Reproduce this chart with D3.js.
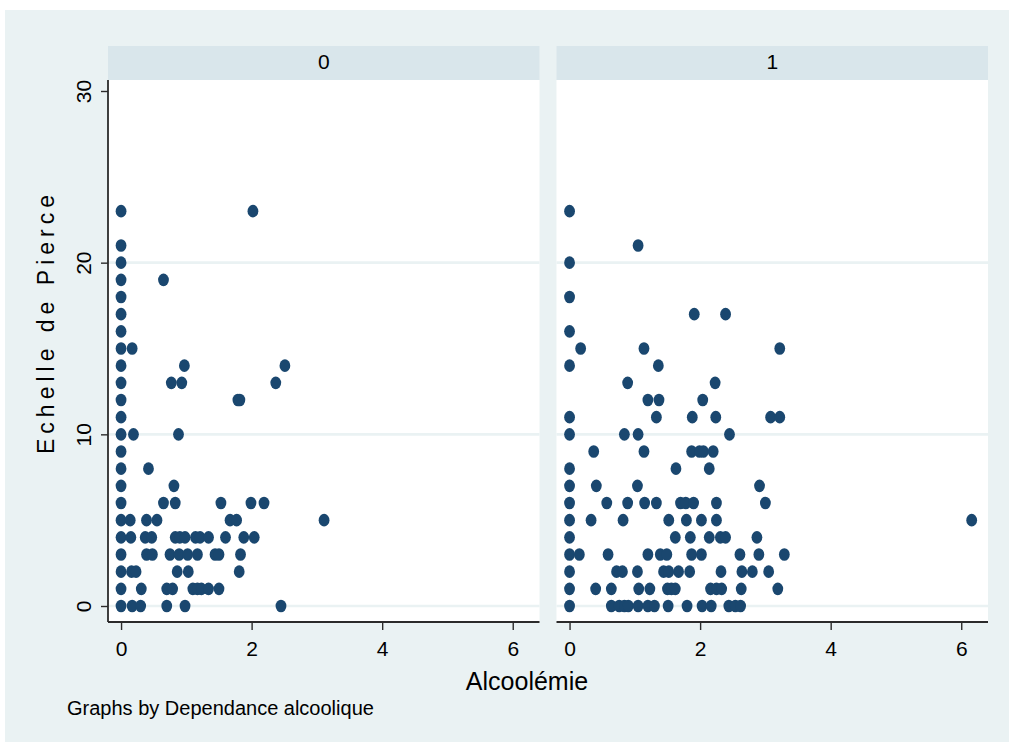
<!DOCTYPE html>
<html>
<head>
<meta charset="utf-8">
<script src="https://cdn.jsdelivr.net/npm/d3@7"></script>
<style>
  html, body { margin: 0; padding: 0; background: #ffffff; }
  svg { display: block; }
  text { font-family: "Liberation Sans", Arial, sans-serif; fill: #000; }
</style>
</head>
<body>
<svg id="chart" width="1009" height="742"></svg>
<script>
// Panels: Dependance alcoolique = 0 / 1
const panelLabels = ["0", "1"];

// Alcoolémie values for each Echelle de Pierce score (index = score 0..23)
const alcoolemie0 = [
  [0, 0.17, 0.3, 0.7, 0.98, 2.45],                                  // 0
  [0, 0.31, 0.7, 0.79, 1.1, 1.17, 1.23, 1.34, 1.5],                 // 1
  [0, 0.16, 0.23, 0.86, 1.03, 1.81],                                // 2
  [0, 0.39, 0.48, 0.75, 0.89, 1.02, 1.17, 1.44, 1.5, 1.83],         // 3
  [0, 0.15, 0.37, 0.47, 0.83, 0.9, 0.98, 1.14, 1.21, 1.34, 1.6, 1.88, 2.04], // 4
  [0, 0.14, 0.39, 0.55, 1.67, 1.77, 3.11],                          // 5
  [0, 0.65, 0.83, 1.53, 1.99, 2.19],                                // 6
  [0, 0.81],                                                        // 7
  [0, 0.42],                                                        // 8
  [0],                                                              // 9
  [0, 0.19, 0.88],                                                  // 10
  [0],                                                              // 11
  [0, 1.79, 1.82],                                                  // 12
  [0, 0.77, 0.93, 2.37],                                            // 13
  [0, 0.97, 2.51],                                                  // 14
  [0, 0.17],                                                        // 15
  [0],                                                              // 16
  [0],                                                              // 17
  [0],                                                              // 18
  [0, 0.65],                                                        // 19
  [0],                                                              // 20
  [0],                                                              // 21
  [],                                                               // 22
  [0, 2.02]                                                         // 23
];

const alcoolemie1 = [
  [0, 0.64, 0.76, 0.84, 0.9, 1.05, 1.2, 1.3, 1.51, 1.8, 2.03, 2.17, 2.44, 2.54, 2.62], // 0
  [0, 0.4, 0.64, 1.06, 1.23, 1.5, 1.56, 1.62, 2.16, 2.25, 2.33, 2.63, 3.19],           // 1
  [0, 0.72, 0.81, 1.04, 1.44, 1.52, 1.67, 1.84, 2.32, 2.64, 2.8, 3.05],                // 2
  [0, 0.15, 0.59, 1.2, 1.39, 1.49, 1.87, 2.02, 2.61, 2.9, 3.29],                       // 3
  [0, 1.62, 1.85, 2.14, 2.31, 2.39, 2.87],                                             // 4
  [0, 0.33, 0.82, 1.52, 1.79, 2.02, 2.25, 6.16],                                       // 5
  [0, 0.57, 0.89, 1.15, 1.33, 1.7, 1.78, 1.9, 2.25, 3.0],                              // 6
  [0, 0.41, 1.04, 2.91],                                                               // 7
  [0, 1.63, 2.14],                                                                     // 8
  [0.37, 1.14, 1.87, 1.99, 2.05, 2.2],                                                 // 9
  [0, 0.84, 1.05, 2.45],                                                               // 10
  [0, 1.33, 1.88, 2.24, 3.08, 3.22],                                                   // 11
  [1.2, 1.37, 2.04],                                                                   // 12
  [0.89, 2.23],                                                                        // 13
  [0, 1.36],                                                                           // 14
  [0.17, 1.14, 3.22],                                                                  // 15
  [0],                                                                                 // 16
  [1.91, 2.39],                                                                        // 17
  [0],                                                                                 // 18
  [],                                                                                  // 19
  [0],                                                                                 // 20
  [1.05],                                                                              // 21
  [],                                                                                  // 22
  [0]                                                                                  // 23
];

const xTicks = [0, 2, 4, 6];
const yTicks = [0, 10, 20, 30];
const yGrid = [0, 10, 20];

const xTitle = "Alcoolémie";
const yTitle = "Echelle de Pierce";
const note = "Graphs by Dependance alcoolique";

// Flatten a per-score table into point records
function toPoints(table) {
  const pts = [];
  table.forEach((xs, score) => xs.forEach(a => pts.push({ x: a, y: score })));
  return pts;
}
const panelData = [toPoints(alcoolemie0), toPoints(alcoolemie1)];

// Layout
const W = 1009, H = 742;
const colors = {
  outer: "#eaf2f3",
  strip: "#d9e6eb",
  plot: "#ffffff",
  grid: "#eaf2f3",
  marker: "#1a476f",
  axis: "#2b2b2b"
};
const plotTop = 80, plotBottom = 622;
const stripTop = 46;
const panelLefts = [108, 556.5];
const panelWidth = 431.5;

const svg = d3.select("#chart");

svg.append("rect")
  .attr("x", 5).attr("y", 10)
  .attr("width", W - 5).attr("height", H - 10)
  .attr("fill", colors.outer);

const y = d3.scaleLinear().domain([0, 30]).range([606, 91]);

panelLabels.forEach((lab, i) => {
  const left = panelLefts[i];
  const x = d3.scaleLinear().domain([-0.2, 6.41]).range([0, panelWidth]);
  const g = svg.append("g").attr("transform", `translate(${left},0)`);

  // strip
  g.append("rect")
    .attr("x", 0).attr("y", stripTop)
    .attr("width", panelWidth).attr("height", plotTop - stripTop)
    .attr("fill", colors.strip);
  g.append("text")
    .attr("x", panelWidth / 2).attr("y", 69)
    .attr("text-anchor", "middle")
    .attr("font-size", 21)
    .text(lab);

  // plot region
  g.append("rect")
    .attr("x", 0).attr("y", plotTop)
    .attr("width", panelWidth).attr("height", plotBottom - plotTop)
    .attr("fill", colors.plot);

  // horizontal grid
  g.selectAll("line.grid").data(yGrid).join("line")
    .attr("class", "grid")
    .attr("x1", 0).attr("x2", panelWidth)
    .attr("y1", d => y(d)).attr("y2", d => y(d))
    .attr("stroke", colors.grid)
    .attr("stroke-width", 2.6);

  // markers
  g.selectAll("ellipse").data(panelData[i]).join("ellipse")
    .attr("cx", d => x(d.x))
    .attr("cy", d => y(d.y))
    .attr("rx", 5.4).attr("ry", 6.3)
    .attr("fill", colors.marker);

  // x axis
  const xAxis = d3.axisBottom(x).tickValues(xTicks).tickSize(8).tickPadding(4)
    .tickFormat(d3.format("d"));
  const xg = g.append("g").attr("transform", `translate(0,${plotBottom})`).call(xAxis);
  xg.select(".domain").remove();
  xg.selectAll(".tick line").attr("stroke", colors.axis).attr("stroke-width", 1.4);
  xg.selectAll(".tick text")
    .attr("font-size", 21)
    .attr("font-family", "'Liberation Sans', Arial, sans-serif")
    .attr("fill", "#000")
    .attr("dy", null).attr("y", 34);
  g.append("line")
    .attr("x1", 0).attr("x2", panelWidth)
    .attr("y1", plotBottom).attr("y2", plotBottom)
    .attr("stroke", colors.axis).attr("stroke-width", 1.8);

  // y axis only on the first panel
  if (i === 0) {
    const yAxis = d3.axisLeft(y).tickValues(yTicks).tickSize(7).tickFormat(d3.format("d"));
    const yg = g.append("g").call(yAxis);
    yg.select(".domain").remove();
    yg.selectAll(".tick line").attr("stroke", colors.axis).attr("stroke-width", 1.4);
    yg.selectAll(".tick text")
      .attr("font-size", 21)
      .attr("font-family", "'Liberation Sans', Arial, sans-serif")
      .attr("fill", "#000")
      .attr("text-anchor", "middle")
      .attr("transform", "rotate(-90)")
      .attr("x", 0).attr("dy", null)
      .attr("y", -17);
    g.append("line")
      .attr("x1", 0).attr("x2", 0)
      .attr("y1", plotTop).attr("y2", plotBottom)
      .attr("stroke", colors.axis).attr("stroke-width", 1.8);
  }
});

// axis titles and note
svg.append("text")
  .attr("x", 527).attr("y", 690)
  .attr("text-anchor", "middle")
  .attr("font-size", 25)
  .text(xTitle);

svg.append("text")
  .attr("transform", "translate(54,322) rotate(-90)")
  .attr("text-anchor", "middle")
  .attr("font-size", 23)
  .attr("letter-spacing", "5px")
  .text(yTitle);

svg.append("text")
  .attr("x", 67).attr("y", 715)
  .attr("font-size", 20)
  .text(note);
</script>
</body>
</html>
